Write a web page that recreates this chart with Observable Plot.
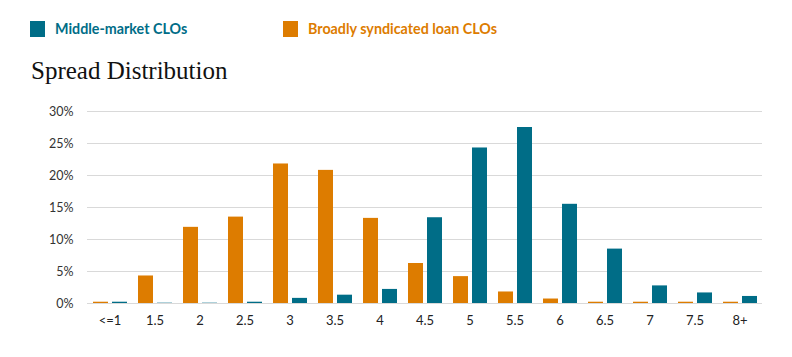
<!DOCTYPE html>
<html>
<head>
<meta charset="utf-8">
<script src="https://cdn.jsdelivr.net/npm/d3@7"></script>
<script src="https://cdn.jsdelivr.net/npm/@observablehq/plot@0.6"></script>
<style>
  html, body { margin: 0; padding: 0; background: #fff; }
  #wrap { position: relative; width: 792px; height: 357px; overflow: hidden; }
  .leg { position: absolute; top: 20px; font-family: Lato, "Open Sans", sans-serif; font-weight: bold; font-size: 14.3px; display: flex; align-items: center; }
  .sw { width: 15px; height: 16px; display: inline-block; margin-right: 10px; }
  #title { position: absolute; left: 31px; top: 57px; font-family: "Liberation Serif", "DejaVu Serif", serif; font-size: 25px; color: #111; }
  #chart { position: absolute; left: 0; top: 95px; }
</style>
</head>
<body>
<div id="wrap">
  <div class="leg" style="left:30px;color:#006d87"><span class="sw" style="background:#006d87"></span>Middle-market CLOs</div>
  <div class="leg" style="left:283px;color:#dd7c00"><span class="sw" style="background:#dd7c00"></span>Broadly syndicated loan CLOs</div>
  <div id="title">Spread Distribution</div>
  <div id="chart"></div>
</div>
<script>
const categories = ["<=1","1.5","2","2.5","3","3.5","4","4.5","5","5.5","6","6.5","7","7.5","8+"];
const bslValues = [0.2, 4.3, 11.9, 13.5, 21.8, 20.8, 13.3, 6.25, 4.2, 1.8, 0.7, 0.2, 0.2, 0.2, 0.2];
const mmValues  = [0.2, 0.05, 0.05, 0.2, 0.8, 1.3, 2.2, 13.4, 24.3, 27.5, 15.5, 8.5, 2.75, 1.65, 1.1];
const yTicks = [0, 5, 10, 15, 20, 25, 30];
const bslColor = "#dd7c00";
const mmColor = "#006d87";

const bslData = categories.map((c, i) => ({cat: c, value: bslValues[i]}));
const mmData = categories.map((c, i) => ({cat: c, value: mmValues[i]}));

const chart = Plot.plot({
  width: 792,
  height: 262,
  marginTop: 16,
  marginBottom: 54,
  marginLeft: 87,
  marginRight: 30,
  style: {fontFamily: "Lato, 'Open Sans', sans-serif", fontSize: "12px", background: "white"},
  x: {domain: categories, padding: 0, label: null, tickSize: 0, tickPadding: 12},
  y: {domain: [0, 30], ticks: yTicks, tickFormat: d => d + "%", label: null, tickSize: 0, tickPadding: 14},
  marks: [
    Plot.gridY(yTicks, {stroke: "#d9d9d9", strokeOpacity: 1, strokeWidth: 1}),
    Plot.barY(bslData, {x: "cat", y: "value", fill: bslColor, insetLeft: 6, insetRight: 24}),
    Plot.barY(mmData, {x: "cat", y: "value", fill: mmColor, insetLeft: 25, insetRight: 5}),
    Plot.axisY(yTicks, {tickSize: 0, tickPadding: 14, tickFormat: d => d + "%", fill: "#333", fontSize: 12.5, label: null}),
    Plot.axisX({tickSize: 0, tickPadding: 12, fill: "#222", fontSize: 13, label: null})
  ]
});
document.getElementById("chart").appendChild(chart);
</script>
</body>
</html>
